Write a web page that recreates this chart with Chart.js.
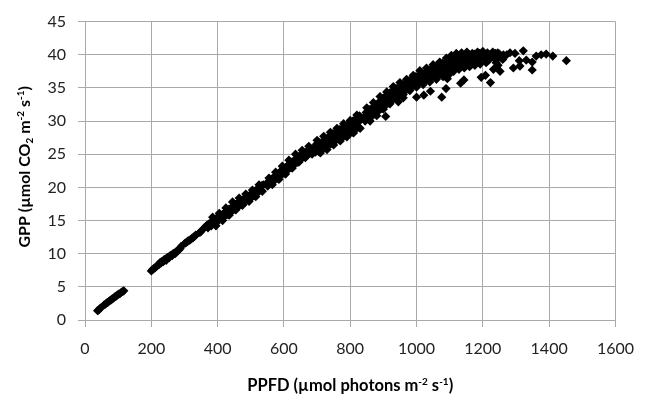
<!DOCTYPE html>
<html>
<head>
<meta charset="utf-8">
<script src="https://cdn.jsdelivr.net/npm/chart.js@4.4.0/dist/chart.umd.min.js"></script>
<style>
  body { margin: 0; background: #fff; }
  #wrap { width: 646px; height: 402px; position: relative; }
</style>
</head>
<body>
<div id="wrap"><canvas id="chart"></canvas></div>
<script>
const ppfd = [
  38, 41, 44, 47, 58, 62, 66, 70, 74, 78,
  82, 86, 90, 94, 98, 102, 106, 110, 114, 117,
  200, 204, 208, 212, 216, 220, 224, 227, 230, 233,
  236, 239, 242, 245, 248, 251, 254, 257, 260, 263,
  266, 269, 272, 275, 278, 281, 284, 287, 290, 302,
  306, 310, 314, 318, 322, 326, 330, 334, 346, 349,
  360, 364, 368, 371, 374, 378, 381, 384, 388, 391,
  394, 398, 401, 404, 408, 411, 414, 418, 421, 424,
  428, 431, 434, 438, 441, 444, 448, 451, 454, 458,
  461, 464, 468, 471, 474, 478, 481, 484, 488, 491,
  494, 498, 501, 504, 508, 511, 514, 518, 521, 524,
  528, 531, 534, 538, 548, 551, 554, 558, 561, 564,
  568, 571, 574, 578, 581, 584, 588, 591, 594, 598,
  601, 604, 608, 611, 614, 618, 621, 624, 628, 631,
  634, 638, 641, 644, 648, 651, 654, 658, 661, 664,
  668, 671, 674, 678, 681, 684, 692, 695, 698, 702,
  705, 708, 712, 715, 718, 722, 725, 728, 732, 735,
  738, 742, 745, 748, 752, 755, 758, 762, 765, 768,
  772, 775, 778, 782, 785, 788, 792, 795, 798, 802,
  805, 808, 812, 815, 818, 822, 825, 828, 832, 842,
  845, 848, 852, 855, 858, 862, 865, 868, 872, 875,
  878, 882, 885, 888, 892, 895, 898, 902, 905, 908,
  912, 915, 918, 922, 925, 928, 932, 935, 938, 942,
  945, 948, 952, 955, 958, 962, 965, 968, 972, 975,
  978, 982, 985, 988, 992, 995, 998, 1002, 1005, 1008,
  1012, 1015, 1018, 1022, 1025, 1028, 1032, 1035, 1038, 1042,
  1045, 1048, 1052, 1055, 1058, 1062, 1065, 1068, 1072, 1075,
  1078, 1082, 1085, 1088, 1092, 1095, 1098, 1102, 1106, 1110,
  1114, 1118, 1122, 1126, 1130, 1134, 1138, 1142, 1146, 1150,
  1155, 1160, 1165, 1170, 1175, 1180, 1186, 1190, 1196, 1202,
  1208, 1214, 1220, 1226, 1232, 1238,
  // band edges
  385, 395, 405, 415, 425, 435, 445, 455, 465, 475,
  485, 495, 505, 515, 525, 535, 555, 565, 575, 585,
  595, 605, 615, 625, 635, 645, 655, 665, 675, 685,
  700, 710, 720, 730, 740, 750, 760, 770, 780, 790,
  800, 810, 820, 830, 850, 860, 870, 880, 890, 900,
  910, 920, 930, 940, 950, 960, 970, 980, 990, 1000,
  1010, 1020, 1030, 1040, 1050, 1060, 1070, 1080, 1090, 1100,
  1105, 1112, 1120, 1128, 1136, 1144, 1152, 1160, 1168, 1176,
  1184, 1192, 1200, 1210, 1218, 1230, 1240, 1250, 1260, 1272,
  1282, 1246,
  // scattered points below the band
  907, 945, 960, 1000, 1022, 1042, 1076, 1089, 1093, 1133,
  1143, 1195, 1208, 1223, 1232, 1252, 1242, 1256, 1245, 1262,
  1292, 1297, 1310, 1312, 1322, 1331, 1349, 1349, 1361, 1376,
  1391, 1411, 1452
];
const gpp = [
  1.4, 1.5, 1.7, 1.8, 2.3, 2.4, 2.6, 2.7, 2.9, 3.0,
  3.2, 3.3, 3.5, 3.6, 3.8, 3.9, 4.0, 4.2, 4.3, 4.4,
  7.4, 7.6, 7.8, 7.9, 8.1, 8.3, 8.4, 8.7, 8.6, 8.9,
  8.8, 9.1, 9.2, 9.0, 9.4, 9.5, 9.4, 9.7, 9.8, 9.7,
  10.0, 10.1, 10.0, 10.3, 10.4, 10.5, 10.6, 10.8, 11.1, 11.6,
  11.7, 11.9, 12.0, 12.1, 12.3, 12.4, 12.6, 12.8, 13.2, 13.3,
  13.9, 14.1, 14.3, 13.9, 14.5, 14.6, 14.2, 14.8, 15.0, 14.6,
  15.2, 15.4, 14.9, 15.6, 15.7, 15.2, 15.9, 16.0, 15.6, 16.3,
  16.4, 15.9, 16.7, 16.8, 16.3, 17.0, 17.1, 16.7, 17.4, 17.5,
  17.0, 17.8, 17.8, 17.4, 18.1, 18.2, 17.7, 18.4, 18.5, 18.1,
  18.7, 18.8, 18.4, 19.1, 19.2, 18.8, 19.5, 19.6, 19.2, 19.9,
  20.0, 19.6, 20.3, 20.4, 20.6, 20.2, 20.9, 21.0, 20.6, 21.3,
  21.4, 21.0, 21.7, 21.8, 21.4, 22.1, 22.3, 21.8, 22.6, 22.7,
  22.2, 23.0, 23.1, 22.6, 23.4, 23.5, 23.0, 23.8, 23.9, 23.4,
  24.2, 24.3, 23.8, 24.6, 24.7, 24.2, 24.9, 25.1, 24.6, 25.2,
  25.4, 24.9, 25.5, 25.7, 25.2, 25.8, 25.9, 25.3, 26.5, 26.0,
  25.4, 26.7, 26.3, 25.7, 27.0, 26.6, 26.0, 27.3, 26.9, 26.3,
  27.7, 27.2, 26.6, 28.1, 27.6, 27.0, 28.4, 27.9, 27.3, 28.7,
  28.2, 27.5, 29.0, 28.5, 27.8, 29.3, 28.7, 28.1, 29.6, 29.0,
  28.3, 30.0, 29.4, 28.7, 30.4, 29.8, 29.1, 30.8, 30.2, 30.6,
  30.0, 31.3, 31.0, 30.3, 31.7, 31.4, 30.7, 32.1, 31.8, 31.1,
  32.5, 32.2, 31.5, 32.9, 32.6, 31.9, 33.4, 33.0, 32.3, 33.8,
  33.4, 32.7, 34.2, 33.8, 33.1, 34.6, 34.1, 33.5, 34.9, 34.5,
  33.9, 35.2, 34.8, 34.2, 35.5, 35.1, 34.5, 35.8, 35.4, 34.8,
  36.1, 35.7, 35.1, 36.4, 36.0, 35.4, 36.7, 36.3, 35.6, 36.9,
  36.5, 35.9, 37.1, 36.7, 36.1, 37.4, 37.0, 36.4, 37.7, 37.2,
  36.6, 37.9, 37.4, 36.8, 38.2, 37.7, 37.0, 38.4, 37.9, 37.2,
  38.7, 38.1, 37.5, 38.9, 38.3, 37.7, 39.2, 38.5, 37.9, 39.4,
  38.7, 38.1, 39.6, 38.9, 38.3, 39.8, 39.1, 38.5, 39.9, 39.2,
  38.7, 40.0, 39.4, 38.9, 40.1, 39.5, 39.0, 40.2, 39.6, 40.0,
  39.3, 40.3, 39.8, 40.1, 39.6, 40.2,
  // band edges
  15.5, 14.2, 16.1, 15.0, 16.9, 15.8, 17.8, 16.6, 18.4, 17.3,
  19.0, 17.9, 19.6, 18.6, 20.4, 19.4, 21.4, 20.4, 22.3, 21.2,
  23.2, 22.0, 24.1, 22.9, 25.0, 23.8, 25.6, 24.5, 26.2, 25.0,
  27.1, 25.2, 27.7, 25.7, 28.3, 26.4, 28.9, 27.0, 29.6, 27.6,
  30.1, 28.2, 30.9, 28.9, 32.0, 30.0, 32.8, 30.8, 33.7, 31.8,
  34.4, 32.6, 35.2, 33.4, 35.8, 34.0, 36.3, 34.6, 36.9, 35.1,
  37.6, 35.5, 38.0, 35.9, 38.5, 36.3, 38.9, 36.7, 39.5, 37.1,
  39.9, 37.5, 40.2, 37.8, 40.3, 38.0, 40.4, 38.2, 40.2, 38.4,
  40.4, 38.6, 40.5, 38.8, 39.2, 40.4, 38.8, 40.1, 39.3, 40.0,
  40.3, 38.4,
  // scattered points below the band
  30.7, 32.9, 33.5, 33.6, 33.9, 34.5, 33.6, 34.9, 36.4, 35.7,
  36.2, 36.6, 36.9, 35.8, 37.8, 37.5, 39.3, 39.6, 40.3, 40.0,
  38.0, 40.2, 39.1, 38.3, 40.6, 39.2, 37.7, 38.9, 39.8, 40.0,
  40.1, 39.8, 39.1
];

const xTicks = [0, 200, 400, 600, 800, 1000, 1200, 1400, 1600];
const yTicks = [0, 5, 10, 15, 20, 25, 30, 35, 40, 45];

// axis titles with sub/superscripts: [text, 'n' | 'sub' | 'sup']
const xTitle = [['PPFD (\u00b5mol photons m', 'n'], ['-2', 'sup'], [' s', 'n'], ['-1', 'sup'], [')', 'n']];
const yTitle = [['GPP (\u00b5mol CO', 'n'], ['2', 'sub'], [' m', 'n'], ['-2', 'sup'], [' s', 'n'], ['-1', 'sup'], [')', 'n']];

const FONT = 'Lato, "Open Sans", sans-serif';
const GRID = '#a9a9a9';

function drawRich(ctx, segs, cx, cy, angle, size) {
  const big = 'bold ' + size + 'px ' + FONT;
  const small = 'bold ' + Math.round(size * 0.62) + 'px ' + FONT;
  let total = 0;
  segs.forEach(([t, k]) => {
    ctx.font = k === 'n' ? big : small;
    total += ctx.measureText(t).width;
  });
  ctx.save();
  ctx.translate(cx, cy);
  ctx.rotate(angle);
  ctx.fillStyle = '#000';
  ctx.textBaseline = 'alphabetic';
  let x = -total / 2;
  const base = size * 0.36;
  segs.forEach(([t, k]) => {
    ctx.font = k === 'n' ? big : small;
    let dy = 0;
    if (k === 'sup') dy = -size * 0.38;
    if (k === 'sub') dy = size * 0.2;
    ctx.fillText(t, x, base + dy);
    x += ctx.measureText(t).width;
  });
  ctx.restore();
}

const axisTitles = {
  id: 'axisTitles',
  afterDraw(chart) {
    const ctx = chart.ctx;
    const a = chart.chartArea;
    drawRich(ctx, xTitle, (a.left + a.right) / 2, 385, 0, 16.5);
    drawRich(ctx, yTitle, 24, (a.top + a.bottom) / 2 - 4, -Math.PI / 2, 16);
  }
};

const points = ppfd.map((x, i) => ({ x: x, y: gpp[i] }));

new Chart(document.getElementById('chart'), {
  type: 'scatter',
  data: {
    datasets: [{
      data: points,
      pointStyle: 'rectRot',
      pointRadius: 4.6,
      backgroundColor: '#000',
      borderColor: '#000',
      borderWidth: 0
    }]
  },
  options: {
    responsive: true,
    maintainAspectRatio: false,
    animation: false,
    layout: { padding: { top: 15, right: 22, left: 0, bottom: 0 } },
    plugins: { legend: { display: false }, tooltip: { enabled: false } },
    scales: {
      x: {
        type: 'linear',
        min: 0,
        max: 1600,
        afterBuildTicks: s => { s.ticks = xTicks.map(v => ({ value: v })); },
        afterFit: s => { s.height = 82; },
        grid: { color: GRID, lineWidth: 1, tickLength: 7, tickColor: GRID },
        border: { color: GRID, width: 1 },
        ticks: { color: '#222', padding: 12, font: { family: FONT, size: 16 }, maxRotation: 0, callback: v => String(v) }
      },
      y: {
        type: 'linear',
        min: 0,
        max: 45,
        afterBuildTicks: s => { s.ticks = yTicks.map(v => ({ value: v })); },
        afterFit: s => { s.width = 85; },
        grid: { color: GRID, lineWidth: 1, tickLength: 7, tickColor: GRID },
        border: { color: GRID, width: 1 },
        ticks: { color: '#222', padding: 12, font: { family: FONT, size: 16 }, callback: v => String(v) }
      }
    }
  },
  plugins: [axisTitles]
});
</script>
</body>
</html>
